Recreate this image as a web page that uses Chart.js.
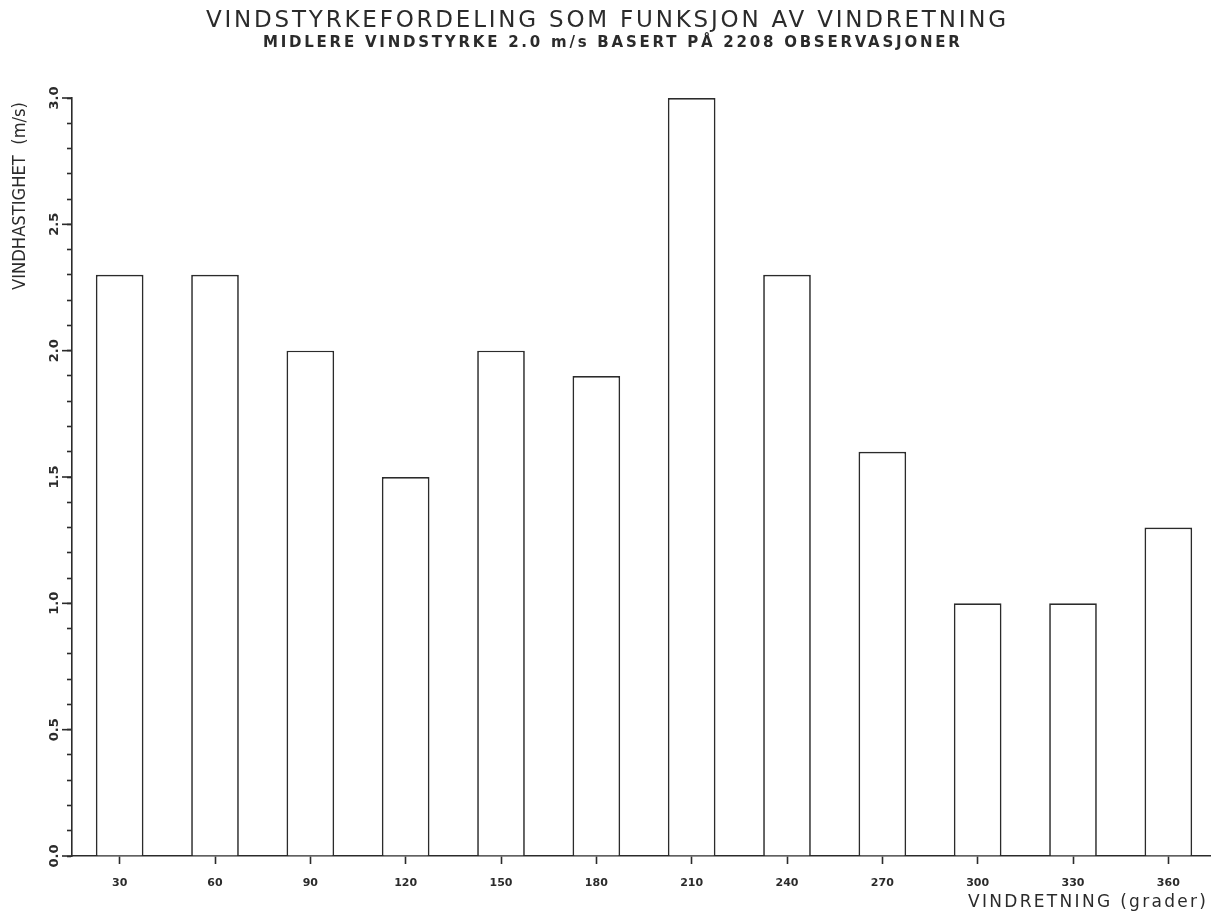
<!DOCTYPE html>
<html>
<head>
<meta charset="utf-8">
<script src="https://cdn.jsdelivr.net/npm/chart.js@4.4.1/dist/chart.umd.min.js"></script>
<style>
  html, body { margin: 0; padding: 0; background: #fff; overflow: hidden; }
  canvas { display: block; }
</style>
</head>
<body>
<canvas id="c" width="1216" height="913"></canvas>
<script>
// Wind direction sectors (degrees) and mean wind speed per sector (m/s)
const directions = ['30', '60', '90', '120', '150', '180', '210', '240', '270', '300', '330', '360'];
const windSpeed = [2.3, 2.3, 2.0, 1.5, 2.0, 1.9, 3.0, 2.3, 1.6, 1.0, 1.0, 1.3];
const yTickLabels = ['0.0', '0.5', '1.0', '1.5', '2.0', '2.5', '3.0'];

const titleText = 'VINDSTYRKEFORDELING SOM FUNKSJON AV VINDRETNING';
const subtitleText = 'MIDLERE VINDSTYRKE 2.0 m/s BASERT PÅ 2208 OBSERVASJONER';
const yTitleText = 'VINDHASTIGHET  (m/s)';
const xTitleText = 'VINDRETNING (grader)';

const INK = '#2b2b2b';

// draws text fitted to a given width: extra letter spacing when short,
// horizontal compression when too long
function fitText(ctx, text, x, y, width) {
  ctx.letterSpacing = '0px';
  ctx.textAlign = 'left';
  const w = ctx.measureText(text).width;
  if (w <= width) {
    const sp = (width - w) / (text.length - 1);
    ctx.letterSpacing = sp.toFixed(2) + 'px';
    ctx.fillText(text, x, y);
    ctx.letterSpacing = '0px';
  } else {
    ctx.save();
    ctx.translate(x, y);
    ctx.scale(width / w, 1);
    ctx.fillText(text, 0, 0);
    ctx.restore();
  }
}

const annotations = {
  id: 'annotations',
  afterDraw(chart) {
    const ctx = chart.ctx;
    const y = chart.scales.y;
    ctx.save();
    ctx.fillStyle = INK;
    ctx.textBaseline = 'middle';

    // titles
    ctx.font = '23px "DejaVu Sans"';
    fitText(ctx, titleText, 206, 21, 800);
    ctx.font = 'bold 15px "DejaVu Sans"';
    fitText(ctx, subtitleText, 263, 43, 697);

    // x axis title
    ctx.font = '17px "DejaVu Sans"';
    fitText(ctx, xTitleText, 968, 903, 238);

    // y axis title, rotated
    ctx.save();
    ctx.translate(21, 290);
    ctx.rotate(-Math.PI / 2);
    ctx.font = '17px "DejaVu Sans"';
    fitText(ctx, yTitleText, 0, 0, 188);
    ctx.restore();

    // longer marks at the labelled values, and rotated labels
    ctx.strokeStyle = INK;
    ctx.lineWidth = 1.6;
    ctx.font = 'bold 13px "DejaVu Sans"';
    ctx.textAlign = 'center';
    yTickLabels.forEach(t => {
      const v = parseFloat(t);
      const py = y.getPixelForValue(v);
      ctx.beginPath();
      ctx.moveTo(y.right - 10, py);
      ctx.lineTo(y.right, py);
      ctx.stroke();
      ctx.save();
      ctx.translate(55, py);
      ctx.rotate(-Math.PI / 2);
      ctx.fillText(t, 0, 0);
      ctx.restore();
    });
    ctx.restore();
  }
};

new Chart(document.getElementById('c'), {
  type: 'bar',
  data: {
    labels: directions,
    datasets: [{
      data: windSpeed,
      backgroundColor: '#ffffff',
      borderColor: INK,
      borderWidth: 1.7,
      borderSkipped: 'bottom',
      barPercentage: 0.5,
      categoryPercentage: 1.0
    }]
  },
  options: {
    responsive: false,
    animation: false,
    devicePixelRatio: 1,
    layout: { padding: { top: 98, left: 0, right: 0, bottom: 0 } },
    plugins: {
      legend: { display: false },
      tooltip: { enabled: false },
      title: { display: false }
    },
    scales: {
      x: {
        offset: true,
        grid: {
          offset: false,
          drawOnChartArea: false,
          drawTicks: true,
          tickLength: 8,
          tickWidth: 1.6,
          tickColor: INK
        },
        border: { display: true, color: INK, width: 1.6 },
        ticks: {
          color: INK,
          font: { family: 'DejaVu Sans', size: 11, weight: 'bold' },
          padding: 13,
          maxRotation: 0,
          autoSkip: false
        },
        afterFit(scale) { scale.height = 57; }
      },
      y: {
        min: 0,
        max: 3.0,
        ticks: { stepSize: 0.1, display: false },
        grid: {
          drawOnChartArea: false,
          drawTicks: true,
          tickLength: 5,
          tickWidth: 1.6,
          tickColor: INK
        },
        border: { display: true, color: INK, width: 1.6 },
        afterFit(scale) { scale.width = 72; }
      }
    }
  },
  plugins: [annotations]
});
</script>
</body>
</html>
